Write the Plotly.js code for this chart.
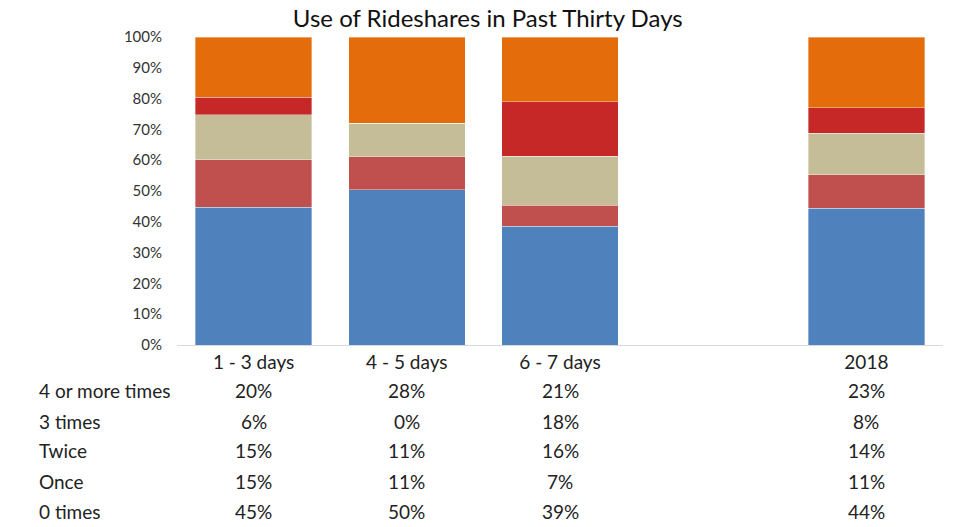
<!DOCTYPE html>
<html>
<head>
<meta charset="utf-8">
<script src="https://cdn.plot.ly/plotly-3.0.1.min.js"></script>
<style>html,body{margin:0;padding:0;background:#fff;}#chart{width:964px;height:527px;}</style>
</head>
<body>
<div id="chart"></div>
<script>
var categories = ["1 - 3 days", "4 - 5 days", "6 - 7 days", "", "2018"];
var seriesNames = ["0 times", "Once", "Twice", "3 times", "4 or more times"];
var zeroTimes = [44.8, 50.4, 38.6, null, 44.4];
var once = [15.3, 10.8, 6.8, null, 10.8];
var twice = [14.6, 10.8, 15.9, null, 13.6];
var threeTimes = [5.7, 0, 17.6, null, 8.2];
var fourPlus = [19.6, 28.0, 21.1, null, 23.0];
var yTickVals = [0, 10, 20, 30, 40, 50, 60, 70, 80, 90, 100];
var tableRowOrder = ["4 or more times", "3 times", "Twice", "Once", "0 times"];

var colors = ["#4F81BD", "#C0504D", "#C4BD97", "#C62828", "#E46C0A"];
var seriesValues = [zeroTimes, once, twice, threeTimes, fourPlus];
var xIdx = categories.map(function (c, i) { return i; });

var traces = seriesValues.map(function (vals, k) {
  return {
    type: "bar",
    name: seriesNames[k],
    x: xIdx,
    y: vals,
    marker: {color: colors[k], line: {color: "rgba(255,255,255,0.6)", width: 0.6}},
    hoverinfo: "skip"
  };
});

var font = "Lato, 'Open Sans', sans-serif";
var annotations = [];
var rowY = [-0.149, -0.247, -0.344, -0.442, -0.539];
tableRowOrder.forEach(function (name, r) {
  annotations.push({
    xref: "paper", yref: "paper", x: -0.183, y: rowY[r],
    xanchor: "left", yanchor: "middle", showarrow: false,
    text: name, font: {family: font, size: 19, color: "#222"}
  });
  var vals = seriesValues[seriesNames.indexOf(name)];
  vals.forEach(function (v, i) {
    if (v === null) return;
    annotations.push({
      xref: "x", yref: "paper", x: i, y: rowY[r],
      xanchor: "center", yanchor: "middle", showarrow: false,
      text: Math.round(v) + "%", font: {family: font, size: 19, color: "#222"}
    });
  });
});

var layout = {
  width: 964, height: 527,
  margin: {l: 177, r: 21, t: 37, b: 182},
  paper_bgcolor: "#fff", plot_bgcolor: "#fff",
  barmode: "stack", bargap: 0.24,
  showlegend: false,
  title: {text: "Use of Rideshares in Past Thirty Days", x: 0.506, xref: "container", xanchor: "center", y: 0.965, yanchor: "middle",
          font: {family: font, size: 24, color: "#111"}},
  xaxis: {
    range: [-0.5, 4.5], tickvals: xIdx, ticktext: categories,
    showgrid: false, zeroline: false, showline: true, linecolor: "#D9D9D9", linewidth: 1,
    ticks: "", tickfont: {family: font, size: 19, color: "#222"}, fixedrange: true
  },
  yaxis: {
    range: [0, 100], tickvals: yTickVals, ticktext: yTickVals.map(function (v) { return v + "%"; }),
    showgrid: false, zeroline: false, showline: false, ticks: "", ticklabelstandoff: 14,
    tickfont: {family: font, size: 15, color: "#333"}, fixedrange: true
  },
  annotations: annotations
};

Plotly.newPlot("chart", traces, layout, {displayModeBar: false, staticPlot: true});
</script>
</body>
</html>
